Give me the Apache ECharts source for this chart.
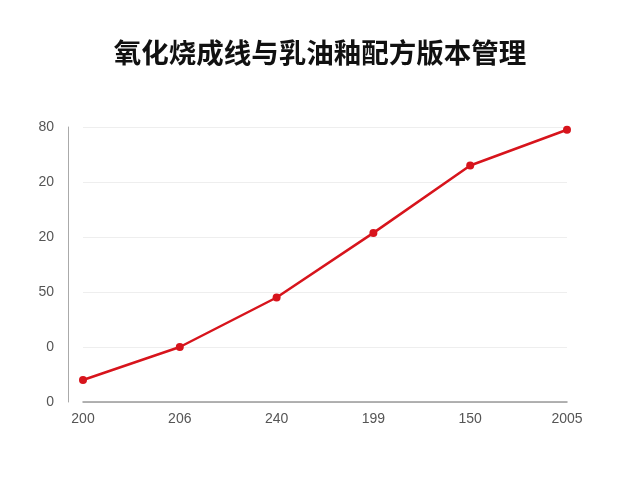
<!DOCTYPE html>
<html><head><meta charset="utf-8">
<script src="https://cdn.jsdelivr.net/npm/echarts@6/dist/echarts.min.js"></script>
<style>html,body{margin:0;padding:0;background:#fff}#c{width:640px;height:480px}</style>
</head><body><div id="c"></div>
<script>
const categories = ["200","206","240","199","150","2005"];
const values = [8, 20, 38, 61.5, 86, 99];
const yTickLabels = ["0","0","50","20","20","80"];
const chart = echarts.init(document.getElementById('c'));
chart.setOption({
  backgroundColor:'#fff',
  title:{text:'氧化烧成线与乳油釉配方版本管理',left:'center',top:34,
    textStyle:{fontFamily:'Noto Sans CJK SC',fontSize:27.5,fontWeight:'bold',color:'#111'}},
  grid:{left:83,right:73,top:127,bottom:78},
  xAxis:{type:'category',data:categories,boundaryGap:false,
    axisLine:{lineStyle:{color:'#999',width:1.5}},axisTick:{show:false},
    axisLabel:{color:'#555',fontSize:14,margin:10,fontFamily:'Liberation Sans'}},
  yAxis:{type:'value',min:0,max:100,interval:20,offset:15,
    axisLine:{show:true,lineStyle:{color:'#aaa'}},axisTick:{show:false},
    splitLine:{lineStyle:{color:'#eee'}},
    axisLabel:{color:'#555',fontSize:14,margin:14,fontFamily:'Liberation Sans',
      formatter:(v)=>yTickLabels[Math.round(v/20)]}},
  series:[{type:'line',data:values,symbol:'circle',symbolSize:8,
    lineStyle:{color:'#d7141c',width:2.5},itemStyle:{color:'#d7141c'}}]
});
</script></body></html>
